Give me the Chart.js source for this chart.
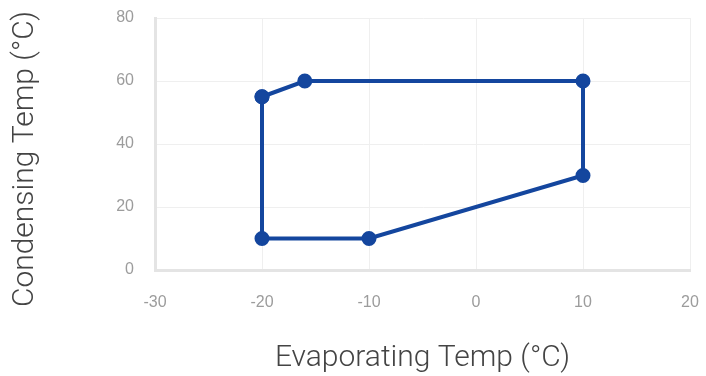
<!DOCTYPE html>
<html>
<head>
<meta charset="utf-8">
<script src="https://cdn.jsdelivr.net/npm/chart.js@4"></script>
<style>
  html, body { margin: 0; padding: 0; background: #fff; }
  #wrap { width: 706px; height: 376px; }
</style>
</head>
<body>
<div id="wrap"><canvas id="chart"></canvas></div>
<script>
// operating envelope, closed polygon (last point repeats the first)
const evapTemps = [-20, -16, 10, 10, -10, -20, -20];
const condTemps = [55, 60, 60, 30, 10, 10, 55];
const xTicks = [-30, -20, -10, 0, 10, 20];
const yTicks = [0, 20, 40, 60, 80];
const yTitle = 'Condensing Temp (°C)';
const xTitle = 'Evaporating Temp (°C)';

const lineColor = 'rgb(20, 70, 158)';
const tickColor = '#9c9c9c';
const gridColor = '#efefef';
const titleColor = '#444';
const titleFont = { family: 'Roboto', size: 30, weight: '300' };
const tickFont = { size: 16 };

const points = evapTemps.map((x, i) => ({ x: x, y: condTemps[i] }));

// y title drawn by hand: the original sits a little lower than the axis centre
const yTitlePlugin = {
    id: 'yTitle',
    afterDraw(chart) {
        const ctx = chart.ctx;
        ctx.save();
        ctx.translate(25, 159);
        ctx.rotate(-Math.PI / 2);
        ctx.font = `${titleFont.weight} ${titleFont.size}px ${titleFont.family}`;
        ctx.fillStyle = titleColor;
        ctx.textAlign = 'center';
        ctx.textBaseline = 'middle';
        ctx.fillText(yTitle, 0, 0);
        ctx.restore();
    }
};

new Chart(document.getElementById('chart'), {
    type: 'scatter',
    data: {
        datasets: [{
            data: points,
            showLine: true,
            borderColor: lineColor,
            backgroundColor: lineColor,
            borderWidth: 4,
            pointRadius: 6.5,
            pointBorderWidth: 2,
            pointHoverRadius: 6.5
        }]
    },
    options: {
        responsive: true,
        maintainAspectRatio: false,
        animation: false,
        layout: { padding: { top: 18, right: 16, left: 0, bottom: 0 } },
        plugins: { legend: { display: false }, tooltip: { enabled: false } },
        scales: {
            x: {
                type: 'linear',
                min: xTicks[0],
                max: xTicks[xTicks.length - 1],
                afterBuildTicks: axis => { axis.ticks = xTicks.map(v => ({ value: v })); },
                afterFit: axis => {
                    axis.height = 106;
                    axis.paddingLeft = 0;
                    axis.paddingRight = 0;
                },
                ticks: { color: tickColor, font: tickFont, padding: 23 },
                grid: { color: gridColor, lineWidth: 1, tickLength: 0 },
                border: { color: '#e4e4e4', width: 3 },
                title: { display: true, text: xTitle, color: titleColor, font: titleFont, padding: { top: 4, bottom: 0 } }
            },
            y: {
                type: 'linear',
                min: yTicks[0],
                max: yTicks[yTicks.length - 1],
                afterBuildTicks: axis => { axis.ticks = yTicks.map(v => ({ value: v })); },
                afterFit: axis => {
                    axis.width = 155;
                    axis.paddingTop = 0;
                    axis.paddingBottom = 0;
                },
                ticks: { color: tickColor, font: tickFont, padding: 21 },
                grid: { color: gridColor, lineWidth: 1, tickLength: 0 },
                border: { color: '#e4e4e4', width: 3 },
                title: { display: false }
            }
        }
    },
    plugins: [yTitlePlugin]
});
</script>
</body>
</html>
